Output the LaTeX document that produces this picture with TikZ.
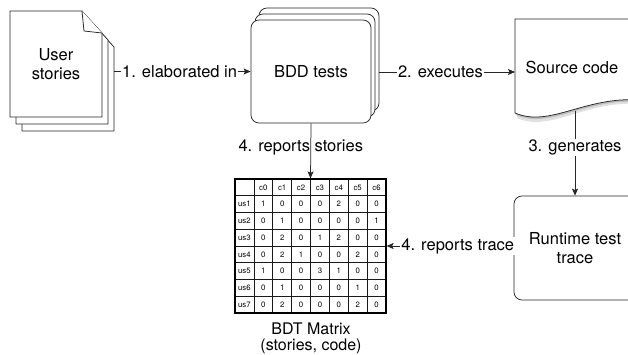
\documentclass[tikz,border=0pt]{standalone}
\usepackage{fontspec}
\setmainfont{TeX Gyre Heros}
\usetikzlibrary{
  arrows.meta,
  positioning,
  calc
}

\begin{document}
\begin{tikzpicture}[
  x=1pt, y=-1pt,
  every node/.style={font=\fontsize{16.5}{19}\selectfont},
  page/.style={draw=black!85, fill=white, line width=0.75pt, line join=round},
  box/.style={draw=black!85, fill=white, line width=0.75pt, rounded corners=8pt,
              inner sep=0, minimum width=120pt, minimum height=103pt},
  flow/.style={draw=black!85, line width=0.75pt,
               -{Stealth[length=7pt,width=6pt,inset=1.5pt]}},
  lbl/.style={fill=white, inner sep=1pt},
  cell/.style={draw=black!90, line width=0.6pt, minimum width=18.875pt,
               minimum height=16.75pt, inner sep=0,
               font=\fontsize{7.8}{8}\selectfont},
  >=Stealth
]
\useasboundingbox (0,0) rectangle (628,354);
\clip (0,0) rectangle (628,354);

% User stories (stack of pages)
\foreach \dx/\dy in {12/14, 6/7, 0/0} {
  \draw[page] ({10+\dx},{11+\dy}) -- ({82+\dx},{11+\dy}) -- ({102+\dx},{33+\dy})
    -- ({102+\dx},{117+\dy}) -- ({10+\dx},{117+\dy}) -- cycle;
}
\draw[page] (82,11) -- (84,31) -- (102,33);
\node[align=center] (stories) at (56,64) {User\\stories};
\coordinate (storiesout) at (114,71.5);

% BDD tests (stacked boxes)
\node[box] (bddback) at (319,59.5) {};
\node[box] (bddmid) at (315,65.5) {};
\node[box] (bdd) at (311,71.5) {BDD tests};

% Source code (document shape)
\fill[black!20, opacity=.6] (517,24) -- (640,24) -- (640,104)
  .. controls (585,100) and (550,133) .. (517,118) -- cycle;
\fill[black!35, opacity=.6] (516,22) -- (640,22) -- (640,102)
  .. controls (585,98) and (550,130) .. (516,115) -- cycle;
\draw[page] (515,19) -- (640,19) -- (640,100)
  .. controls (585,96) and (550,128) .. (515,113) -- cycle;
\node (src) at (572,67) {Source code};
\coordinate (srcin) at (515,72);
\coordinate (srcout) at (575,111);

% Runtime test trace
\node[box, minimum width=122pt, minimum height=104pt, align=center]
  (run) at (575,248) {Runtime test\\trace};

% BDT matrix
\node[cell] (corner) at ({235+0.5*18.875},{179+0.5*16.75}) {};
\foreach \c in {0,...,6} {
  \node[cell] (c\c) at ({235+(\c+1.5)*18.875},{179+0.5*16.75}) {c\c};
}
\foreach \r/\a/\b/\cc/\d/\e/\f/\g in {
  1/1/0/0/0/2/0/0, 2/0/1/0/0/0/0/1, 3/0/2/0/1/2/0/0, 4/0/2/1/0/0/2/0,
  5/1/0/0/3/1/0/0, 6/0/1/0/0/0/1/0, 7/0/2/0/0/0/2/0
} {
  \node[cell] (us\r) at ({235+0.5*18.875},{179+(\r+0.5)*16.75}) {us\r};
  \foreach \v [count=\c from 0] in {\a,\b,\cc,\d,\e,\f,\g} {
    \node[cell] (m-\r-\c) at ({235+(\c+1.5)*18.875},{179+(\r+0.5)*16.75}) {\v};
  }
}
\node[draw=black, line width=1.2pt, minimum width=151pt, minimum height=134pt,
      inner sep=0] (mat) at (310.5,246) {};
\node[align=center, font=\fontsize{16}{16}\selectfont] (matcap) at (311,338.5)
  {BDT Matrix\\(stories, code)};

% Connectors
\draw[flow] (storiesout) -- node[lbl, pos=.48] {1. elaborated in} (bdd.west);
\draw[flow] (bddback.east |- srcin) -- node[lbl, pos=.45] {2. executes} (srcin);
\draw[flow] (srcout) -- node[lbl, pos=.43] {3. generates} (srcout |- run.north);
\draw[flow] (bdd.south) -- node[midway, xshift=-10pt, yshift=3pt] {4. reports stories}
  (mat.north);
\draw[flow] (run.west |- mat.east) -- node[lbl, pos=.44] {4. reports trace} (mat.east);

\end{tikzpicture}
\end{document}
